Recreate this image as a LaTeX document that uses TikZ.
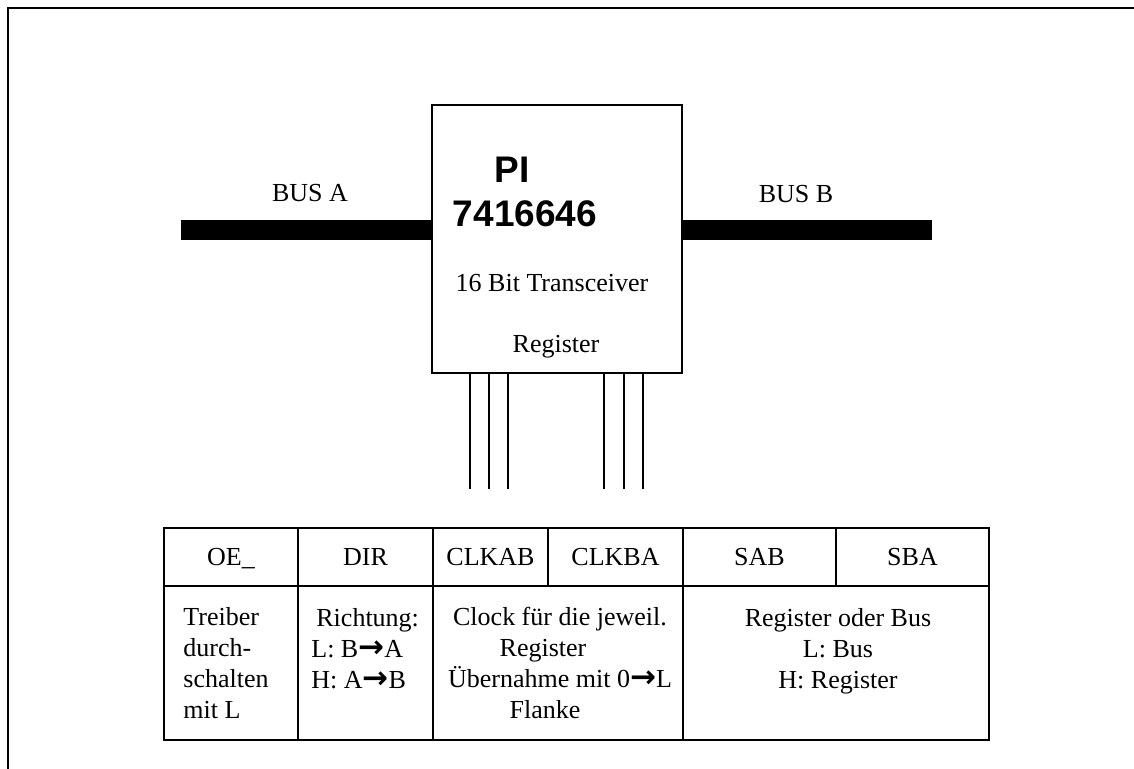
\documentclass[tikz,border=0pt]{standalone}
\usepackage{fontspec}
\setmainfont{Liberation Serif}
\newfontfamily\chipfont{Liberation Sans}
\newfontfamily\arrowfont{DejaVu Sans}
\usetikzlibrary{positioning}

\newcommand{\rarrow}{{\arrowfont\bfseries\fontsize{15.5}{15.4}\selectfont →}}

\tikzset{
  thinline/.style={line width=1pt},
  bus/.style={line width=10pt},
  txt/.style={inner sep=0pt, font=\fontsize{13}{15.4}\selectfont},
  chiptxt/.style={inner sep=0pt, anchor=base, font=\chipfont\bfseries\fontsize{18.5}{20}\selectfont},
  cell/.style={draw, line width=1pt, inner sep=0pt, anchor=north west},
}

\begin{document}
\begin{tikzpicture}[x=0.5pt, y=-0.5pt]
  \useasboundingbox (0,0) rectangle (1134,769);
  % outer frame
  \draw[thinline] (8,769) -- (8,8) -- (1134,8);
  % chip
  \node[draw, thinline, minimum width=125pt, minimum height=134pt, inner sep=0pt] (chip) at (557,239) {};
  \node[chiptxt] (chipname) at (512,183) {PI};
  \node[chiptxt] (chipnum) at (525,227) {7416646};
  \node[txt, anchor=base] (chipdesc) at (552,292) {16 Bit Transceiver};
  \node[txt, anchor=base] (chipreg) at (556,353) {Register};
  % buses
  \coordinate (busAend) at (181,230);
  \coordinate (busBend) at (932,230);
  \draw[bus] (busAend) -- (chip.west |- busAend);
  \draw[bus] (chip.east |- busBend) -- (busBend);
  \node[txt, anchor=base] (busA) at (310,202) {BUS A};
  \node[txt, anchor=base] (busB) at (796,203) {BUS B};
  % control pins
  \foreach \px/\pn in {470/1,489/2,508/3,604/4,624/5,643/6} {
    \coordinate (pin\pn) at (\px,489);
    \draw[thinline] (chip.south -| pin\pn) -- (pin\pn);
  }
  % table, head row
  \foreach \nm/\lx/\w/\txt in {oe/163/134/OE\_, dir/297/135/DIR, clkab/432/115/CLKAB,
      clkba/547/135/CLKBA, sab/682/153/SAB, sba/835/153/SBA} {
    \node[cell, txt, minimum width={\w*0.5pt}, minimum height=29pt,
      text height=8.6pt, text depth=0pt] (\nm) at (\lx,527) {\txt};
  }
  % table, text row (base = last line)
  \node[cell, minimum width=67pt, minimum height=77pt] (oetext) at (163,585) {};
  \node[cell, minimum width=67.5pt, minimum height=77pt] (dirtext) at (297,585) {};
  \node[cell, minimum width=125pt, minimum height=77pt] (clktext) at (432,585) {};
  \node[cell, minimum width=153pt, minimum height=77pt] (seltext) at (682,585) {};
  \node[txt, align=left, anchor=base west] (oedesc) at (183,718)
    {Treiber\\durch-\\schalten\\mit L};
  \node[txt, align=left, anchor=base west] (dirdesc) at (311,688)
    {\hspace*{2.5pt}Richtung:\\L: B\rarrow A\\H: A\rarrow B};
  \node[txt, align=center, anchor=base] (clkdesc) at (560,718)
    {Clock für die jeweil.\\\mbox{Register\hspace{17pt}}\\Übernahme mit 0\rarrow L\\\mbox{Flanke\hspace{15pt}}};
  \node[txt, align=center, anchor=base] (seldesc) at (838,688)
    {Register oder Bus\\L: Bus\\H: Register};
\end{tikzpicture}
\end{document}
